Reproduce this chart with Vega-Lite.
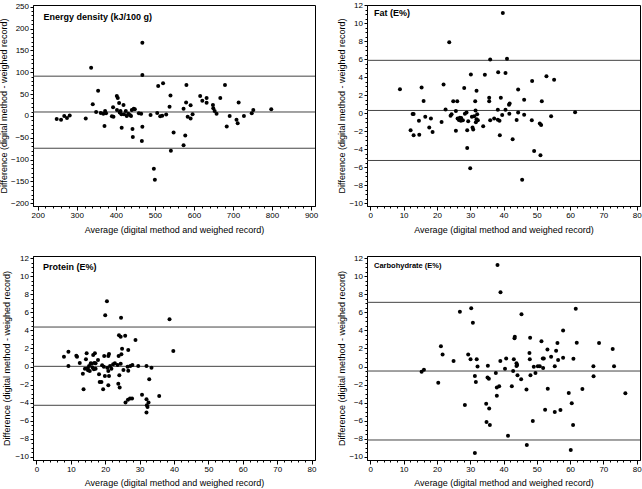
{
  "$schema": "https://vega.github.io/schema/vega-lite/v6.json",
  "padding": {"left": -2, "top": 0, "right": 1, "bottom": 3},
  "spacing": {"row": 18, "column": 17},
  "columns": 2,
  "config": {
    "font": "Liberation Sans",
    "view": {"stroke": "black", "strokeWidth": 1},
    "axis": {"grid": false, "domainColor": "black", "tickColor": "black", "labelColor": "black", "titleColor": "black", "labelFont": "Liberation Sans", "titleFont": "Liberation Sans", "labelFontSize": 8, "titleFontSize": 9, "titleFontWeight": "normal", "labelFlush": false, "labelOverlap": false}
  },
  "datasets": {
    "energy": [
      {"avg":248.7,"diff":-7},{"avg":259.8,"diff":-8.6},{"avg":268,"diff":0},{"avg":275,"diff":-5},{"avg":282,"diff":1},
      {"avg":323,"diff":-6},{"avg":336.8,"diff":110},{"avg":341,"diff":26.5},{"avg":349.6,"diff":8.9},{"avg":354.7,"diff":57.8},
      {"avg":361.5,"diff":6.7},{"avg":368,"diff":5},{"avg":371,"diff":-23},{"avg":372.6,"diff":11},{"avg":375,"diff":6},
      {"avg":390,"diff":-1},{"avg":393,"diff":20},{"avg":394,"diff":-2},{"avg":402.6,"diff":45.6},{"avg":405,"diff":41},{"avg":403,"diff":13.5},
      {"avg":408.5,"diff":29.6},{"avg":410,"diff":8},{"avg":412,"diff":11},{"avg":414.5,"diff":3.6},{"avg":415,"diff":-27},{"avg":419.7,"diff":25},
      {"avg":421,"diff":3.6},{"avg":425.6,"diff":11},{"avg":428,"diff":0},{"avg":432,"diff":5},{"avg":436,"diff":2},{"avg":439,"diff":0},
      {"avg":441,"diff":13.5},{"avg":442.7,"diff":-30},{"avg":443.6,"diff":-48},{"avg":446,"diff":16.6},{"avg":448.7,"diff":15},
      {"avg":459,"diff":6},{"avg":465,"diff":5},{"avg":468,"diff":-24.6},{"avg":466.7,"diff":-57.5},{"avg":468,"diff":167.6},
      {"avg":468,"diff":93.6},{"avg":489,"diff":2},{"avg":497.4,"diff":-120.7},{"avg":500,"diff":-146},{"avg":506,"diff":6.7},
      {"avg":508.5,"diff":68.5},{"avg":513.7,"diff":-1},{"avg":518.8,"diff":0.6},{"avg":521,"diff":75},{"avg":529,"diff":3},
      {"avg":537.6,"diff":21},{"avg":540,"diff":47},{"avg":541,"diff":-80},{"avg":548,"diff":-38},{"avg":573.5,"diff":16.6},
      {"avg":573.5,"diff":-67},{"avg":577.8,"diff":-45},{"avg":580,"diff":31},{"avg":580.8,"diff":70.8},{"avg":584,"diff":-1.7},
      {"avg":591.5,"diff":24.2},{"avg":591.5,"diff":-6},{"avg":596.6,"diff":3.6},{"avg":616,"diff":45.6},{"avg":621.5,"diff":35},
      {"avg":632.5,"diff":41},{"avg":632.5,"diff":30.3},{"avg":648.7,"diff":25},{"avg":649.6,"diff":17.4},{"avg":653,"diff":11},
      {"avg":658,"diff":5},{"avg":667.5,"diff":41},{"avg":679.5,"diff":70.8},{"avg":684,"diff":-24},{"avg":691.5,"diff":0},
      {"avg":709,"diff":-8.6},{"avg":712,"diff":-17},{"avg":714.5,"diff":31},{"avg":728,"diff":0},{"avg":748,"diff":6},
      {"avg":752,"diff":13.5},{"avg":798,"diff":15}
    ],
    "fat": [
      {"avg":8.9,"diff":2.64},{"avg":12.1,"diff":-1.9},{"avg":12.7,"diff":-0.1},{"avg":13.0,"diff":-0.1},{"avg":13.0,"diff":-2.45},
      {"avg":14.6,"diff":-0.85},{"avg":14.7,"diff":-2.4},{"avg":15.4,"diff":2.86},{"avg":16.0,"diff":1.36},{"avg":16.5,"diff":-0.4},
      {"avg":17.7,"diff":-1.6},{"avg":18.2,"diff":-0.6},{"avg":18.7,"diff":-2.1},{"avg":21.4,"diff":-0.98},{"avg":22.0,"diff":3.17},
      {"avg":22.6,"diff":0.4},{"avg":23.7,"diff":7.87},{"avg":24.1,"diff":-0.3},{"avg":24.4,"diff":-0.13},{"avg":24.9,"diff":1.33},
      {"avg":25.7,"diff":0.25},{"avg":25.7,"diff":-1.96},{"avg":26.1,"diff":1.33},{"avg":26.2,"diff":-0.6},{"avg":26.6,"diff":-0.75},
      {"avg":26.9,"diff":-0.5},{"avg":27.2,"diff":-0.85},{"avg":27.3,"diff":-0.55},{"avg":27.8,"diff":-0.8},{"avg":28.2,"diff":2.78},
      {"avg":28.4,"diff":-0.06},{"avg":28.9,"diff":0.08},{"avg":29.1,"diff":-3.86},{"avg":29.1,"diff":-1.9},{"avg":29.4,"diff":-0.9},
      {"avg":30.0,"diff":-6.1},{"avg":30.2,"diff":4.28},{"avg":30.5,"diff":-0.4},{"avg":30.7,"diff":-1.6},{"avg":30.9,"diff":-1.8},
      {"avg":31.2,"diff":-0.35},{"avg":31.5,"diff":1.33},{"avg":31.6,"diff":0.3},{"avg":31.7,"diff":-1.0},{"avg":31.9,"diff":2.5},
      {"avg":31.9,"diff":-0.68},{"avg":32.1,"diff":-0.13},{"avg":32.3,"diff":-0.8},{"avg":33.9,"diff":-1.45},{"avg":34.4,"diff":4.25},
      {"avg":35.7,"diff":1.7},{"avg":35.7,"diff":1.33},{"avg":36.0,"diff":5.95},{"avg":36.0,"diff":-0.8},{"avg":37.2,"diff":-0.6},
      {"avg":38.3,"diff":-0.72},{"avg":38.3,"diff":0.38},{"avg":38.4,"diff":4.55},{"avg":38.8,"diff":-0.85},{"avg":38.9,"diff":-2.45},
      {"avg":39.2,"diff":1.7},{"avg":39.6,"diff":-0.2},{"avg":39.8,"diff":11.1},{"avg":40.6,"diff":4.45},{"avg":40.6,"diff":0.38},
      {"avg":41.05,"diff":6.05},{"avg":41.65,"diff":0.92},{"avg":41.85,"diff":1.07},{"avg":41.75,"diff":-0.06},{"avg":42.75,"diff":-2.9},
      {"avg":43.95,"diff":-0.75},{"avg":44.4,"diff":2.62},{"avg":44.4,"diff":0.08},{"avg":45.6,"diff":-7.4},{"avg":46.2,"diff":1.5},
      {"avg":46.2,"diff":-0.17},{"avg":48.5,"diff":-0.8},{"avg":48.6,"diff":3.56},{"avg":49.2,"diff":-4.2},{"avg":50.9,"diff":-1.16},
      {"avg":51.1,"diff":-4.67},{"avg":51.3,"diff":-1.3},{"avg":51.5,"diff":1.33},{"avg":52.9,"diff":4.1},{"avg":54.3,"diff":-0.35},
      {"avg":55.2,"diff":3.7},{"avg":61.5,"diff":0.1}
    ],
    "protein": [
      {"avg":8.0,"diff":1.07},{"avg":9.3,"diff":1.65},{"avg":9.3,"diff":0.05},{"avg":11.6,"diff":1.2},{"avg":11.8,"diff":1.09},
      {"avg":12.6,"diff":0.4},{"avg":13.5,"diff":-0.8},{"avg":13.7,"diff":-2.52},{"avg":14.1,"diff":-0.25},{"avg":14.4,"diff":0.8},
      {"avg":14.6,"diff":1.46},{"avg":14.9,"diff":-0.2},{"avg":15.0,"diff":-0.42},{"avg":15.3,"diff":0.06},{"avg":15.5,"diff":-0.5},
      {"avg":15.8,"diff":0.36},{"avg":16.0,"diff":0.32},{"avg":16.3,"diff":-0.1},{"avg":16.5,"diff":1.28},{"avg":16.7,"diff":-0.3},
      {"avg":16.8,"diff":0.4},{"avg":17.0,"diff":1.46},{"avg":17.2,"diff":-0.24},{"avg":17.2,"diff":0.35},{"avg":17.9,"diff":0.72},
      {"avg":18.2,"diff":-0.86},{"avg":18.4,"diff":-1.72},{"avg":18.9,"diff":-1.72},{"avg":19.1,"diff":0.13},{"avg":19.6,"diff":-0.02},
      {"avg":19.4,"diff":-2.53},{"avg":19.7,"diff":1.17},{"avg":19.9,"diff":-1.05},{"avg":20.0,"diff":5.68},{"avg":20.5,"diff":7.23},
      {"avg":20.6,"diff":-0.13},{"avg":20.9,"diff":-0.5},{"avg":20.9,"diff":1.17},{"avg":21.1,"diff":1.39},{"avg":20.9,"diff":-2.08},
      {"avg":21.1,"diff":-1.05},{"avg":21.4,"diff":0.06},{"avg":21.8,"diff":-0.24},{"avg":22.3,"diff":0.24},{"avg":22.8,"diff":0.36},
      {"avg":23.6,"diff":0.17},{"avg":23.8,"diff":-1.9},{"avg":23.9,"diff":1.17},{"avg":24.0,"diff":3.46},{"avg":24.5,"diff":3.31},
      {"avg":24.1,"diff":-0.98},{"avg":24.2,"diff":-2.34},{"avg":24.5,"diff":0.32},{"avg":24.6,"diff":5.42},{"avg":24.7,"diff":1.35},
      {"avg":24.9,"diff":1.98},{"avg":25.3,"diff":-0.38},{"avg":25.8,"diff":3.4},{"avg":25.9,"diff":-4.0},{"avg":26.5,"diff":-0.02},
      {"avg":26.7,"diff":-0.46},{"avg":26.7,"diff":1.83},{"avg":26.6,"diff":-3.7},{"avg":27.2,"diff":-3.56},{"avg":27.3,"diff":0.06},
      {"avg":27.9,"diff":0.17},{"avg":27.8,"diff":-3.56},{"avg":28.8,"diff":2.94},{"avg":29.6,"diff":0.06},{"avg":30.7,"diff":-3.12},
      {"avg":32.0,"diff":0.06},{"avg":32.0,"diff":-3.64},{"avg":32.1,"diff":-4.3},{"avg":32.3,"diff":-4.5},{"avg":32.6,"diff":-4.0},
      {"avg":32.0,"diff":-5.1},{"avg":32.8,"diff":-1.4},{"avg":33.45,"diff":-0.13},{"avg":35.7,"diff":-3.27},{"avg":38.7,"diff":5.23},
      {"avg":39.8,"diff":1.72}
    ],
    "carb": [
      {"avg":15.4,"diff":-0.57},{"avg":16.1,"diff":-0.35},{"avg":20.4,"diff":-1.8},{"avg":21.2,"diff":2.24},{"avg":21.7,"diff":1.33},
      {"avg":25.0,"diff":0.61},{"avg":26.9,"diff":6.08},{"avg":28.4,"diff":-4.27},{"avg":29.4,"diff":1.34},{"avg":30.1,"diff":0.8},
      {"avg":30.3,"diff":6.45},{"avg":30.8,"diff":4.85},{"avg":31.4,"diff":-9.6},{"avg":31.4,"diff":-1.06},{"avg":31.7,"diff":-1.72},
      {"avg":31.95,"diff":0.8},{"avg":32.2,"diff":0.0},{"avg":34.8,"diff":-4.12},{"avg":34.9,"diff":-6.15},{"avg":35.2,"diff":-1.23},
      {"avg":35.3,"diff":0.08},{"avg":35.6,"diff":-1.37},{"avg":35.7,"diff":-4.67},{"avg":35.9,"diff":-6.5},{"avg":37.7,"diff":-0.71},
      {"avg":38.0,"diff":-2.34},{"avg":38.0,"diff":-3.25},{"avg":38.2,"diff":11.26},{"avg":38.7,"diff":-2.18},{"avg":39.05,"diff":0.61},
      {"avg":39.1,"diff":8.24},{"avg":40.45,"diff":-0.24},{"avg":40.8,"diff":0.89},{"avg":41.35,"diff":-7.67},{"avg":42.5,"diff":-2.2},
      {"avg":42.9,"diff":-0.5},{"avg":43.1,"diff":0.82},{"avg":43.3,"diff":3.13},{"avg":43.4,"diff":3.3},{"avg":43.9,"diff":0.06},
      {"avg":43.9,"diff":0.35},{"avg":44.1,"diff":0.17},{"avg":44.2,"diff":-0.96},{"avg":45.3,"diff":-1.42},{"avg":45.4,"diff":5.79},
      {"avg":46.9,"diff":-2.55},{"avg":47.0,"diff":-8.7},{"avg":47.8,"diff":1.5},{"avg":47.9,"diff":0.8},{"avg":48.0,"diff":3.2},
      {"avg":48.1,"diff":-0.98},{"avg":48.8,"diff":-6.04},{"avg":49.1,"diff":-0.03},{"avg":49.6,"diff":-0.72},{"avg":50.3,"diff":0.04},
      {"avg":50.9,"diff":0.04},{"avg":51.4,"diff":2.8},{"avg":51.8,"diff":0.89},{"avg":52.1,"diff":0.89},{"avg":51.9,"diff":-0.17},
      {"avg":52.5,"diff":-4.8},{"avg":53.2,"diff":1.9},{"avg":53.3,"diff":-2.47},{"avg":54.3,"diff":1.08},{"avg":55.4,"diff":0.03},
      {"avg":55.4,"diff":-5.04},{"avg":55.8,"diff":1.76},{"avg":56.2,"diff":2.6},{"avg":56.4,"diff":0.73},{"avg":57.1,"diff":-4.82},
      {"avg":57.9,"diff":4.0},{"avg":57.9,"diff":0.98},{"avg":59.6,"diff":-2.95},{"avg":60.2,"diff":-9.26},{"avg":60.5,"diff":-4.08},
      {"avg":60.9,"diff":-6.48},{"avg":61.0,"diff":0.86},{"avg":61.7,"diff":6.4},{"avg":62.0,"diff":2.63},{"avg":63.7,"diff":-2.49},
      {"avg":67.0,"diff":0.02},{"avg":67.05,"diff":-1.09},{"avg":68.7,"diff":2.61},{"avg":72.8,"diff":1.94},{"avg":73.2,"diff":0.02},
      {"avg":76.6,"diff":-2.97}
    ]
  },
  "concat": [
    {
      "width": 282, "height": 201,
      "title": {"text": "Energy density (kJ/100 g)", "anchor": "start", "frame": "group", "offset": -26, "dx": 10.5, "baseline": "alphabetic", "fontSize": 9, "fontWeight": "bold", "font": "Liberation Sans", "color": "black"},
      "resolve": {"axis": {"x": "independent", "y": "independent"}},
      "layer": [
        {"data": {"values": [{"v": 91}, {"v": 9}, {"v": -74}]}, "mark": {"type": "rule", "color": "#444", "strokeWidth": 1},
         "encoding": {"y": {"field": "v", "type": "quantitative", "scale": {"domain": [-206.2, 253.9], "nice": false, "zero": false}, "axis": null}}},
        {"data": {"name": "energy"}, "mark": {"type": "circle", "size": 16, "color": "black", "opacity": 1},
         "encoding": {
           "x": {"field": "avg", "type": "quantitative", "scale": {"domain": [188, 910], "nice": false, "zero": false},
                 "axis": {"title": "Average (digital method and weighed record)", "values": [200,300,400,500,600,700,800,900], "tickSize": 4, "labelPadding": 1, "minExtent": 13, "maxExtent": 13, "titlePadding": 6}},
           "y": {"field": "diff", "type": "quantitative", "scale": {"domain": [-206.2, 253.9], "nice": false, "zero": false},
                 "axis": {"title": "Difference (digital method - weighed record)", "values": [-200,-150,-100,-50,0,50,100,150,200,250], "tickSize": 3, "labelPadding": 1.5, "minExtent": 21, "maxExtent": 21, "titlePadding": 4}}}},
        {"data": {"name": "energy"}, "mark": {"type": "circle", "opacity": 0},
         "encoding": {
           "x": {"field": "avg", "type": "quantitative", "scale": {"domain": [188, 910], "nice": false, "zero": false},
                 "axis": {"orient": "bottom", "title": null, "labels": false, "domain": false, "tickSize": 2, "minExtent": 0, "maxExtent": 0, "values": [200,220,240,260,280,300,320,340,360,380,400,420,440,460,480,500,520,540,560,580,600,620,640,660,680,700,720,740,760,780,800,820,840,860,880,900]}},
           "y": {"field": "diff", "type": "quantitative", "scale": {"domain": [-206.2, 253.9], "nice": false, "zero": false},
                 "axis": {"orient": "left", "title": null, "labels": false, "domain": false, "tickSize": 2, "minExtent": 0, "maxExtent": 0, "values": [-200,-190,-180,-170,-160,-150,-140,-130,-120,-110,-100,-90,-80,-70,-60,-50,-40,-30,-20,-10,0,10,20,30,40,50,60,70,80,90,100,110,120,130,140,150,160,170,180,190,200,210,220,230,240,250]}}}}
      ]
    },
    {
      "width": 273, "height": 201,
      "title": {"text": "Fat (E%)", "anchor": "start", "frame": "group", "offset": -24, "dx": 7, "baseline": "alphabetic", "fontSize": 9, "fontWeight": "bold", "font": "Liberation Sans", "color": "black"},
      "resolve": {"axis": {"x": "independent", "y": "independent"}},
      "layer": [
        {"data": {"values": [{"v": 5.86}, {"v": 0.3}, {"v": -5.25}]}, "mark": {"type": "rule", "color": "#444", "strokeWidth": 1},
         "encoding": {"y": {"field": "v", "type": "quantitative", "scale": {"domain": [-10.3, 12], "nice": false, "zero": false}, "axis": null}}},
        {"data": {"name": "fat"}, "mark": {"type": "circle", "size": 16, "color": "black", "opacity": 1},
         "encoding": {
           "x": {"field": "avg", "type": "quantitative", "scale": {"domain": [-1, 81], "nice": false, "zero": false},
                 "axis": {"title": "Average (digital method and weighed record)", "values": [0,10,20,30,40,50,60,70,80], "tickSize": 4, "labelPadding": 1, "minExtent": 13, "maxExtent": 13, "titlePadding": 6}},
           "y": {"field": "diff", "type": "quantitative", "scale": {"domain": [-10.3, 12], "nice": false, "zero": false},
                 "axis": {"title": "Difference (digital method - weighed record)", "values": [-10,-8,-6,-4,-2,0,2,4,6,8,10,12], "tickSize": 3, "labelPadding": 1.5, "minExtent": 16, "maxExtent": 16, "titlePadding": 5}}}},
        {"data": {"name": "fat"}, "mark": {"type": "circle", "opacity": 0},
         "encoding": {
           "x": {"field": "avg", "type": "quantitative", "scale": {"domain": [-1, 81], "nice": false, "zero": false},
                 "axis": {"orient": "bottom", "title": null, "labels": false, "domain": false, "tickSize": 2, "minExtent": 0, "maxExtent": 0, "values": [0,2,4,6,8,10,12,14,16,18,20,22,24,26,28,30,32,34,36,38,40,42,44,46,48,50,52,54,56,58,60,62,64,66,68,70,72,74,76,78,80]}},
           "y": {"field": "diff", "type": "quantitative", "scale": {"domain": [-10.3, 12], "nice": false, "zero": false},
                 "axis": {"orient": "left", "title": null, "labels": false, "domain": false, "tickSize": 2, "minExtent": 0, "maxExtent": 0, "values": [-10,-9.5,-9,-8.5,-8,-7.5,-7,-6.5,-6,-5.5,-5,-4.5,-4,-3.5,-3,-2.5,-2,-1.5,-1,-0.5,0,0.5,1,1.5,2,2.5,3,3.5,4,4.5,5,5.5,6,6.5,7,7.5,8,8.5,9,9.5,10,10.5,11,11.5,12]}}}}
      ]
    },
    {
      "width": 282, "height": 204,
      "title": {"text": "Protein (E%)", "anchor": "start", "frame": "group", "offset": -25, "dx": 10, "baseline": "alphabetic", "fontSize": 9, "fontWeight": "bold", "font": "Liberation Sans", "color": "black"},
      "resolve": {"axis": {"x": "independent", "y": "independent"}},
      "layer": [
        {"data": {"values": [{"v": 4.38}, {"v": 0.02}, {"v": -4.3}]}, "mark": {"type": "rule", "color": "#444", "strokeWidth": 1},
         "encoding": {"y": {"field": "v", "type": "quantitative", "scale": {"domain": [-10.37, 12.26], "nice": false, "zero": false}, "axis": null}}},
        {"data": {"name": "protein"}, "mark": {"type": "circle", "size": 16, "color": "black", "opacity": 1},
         "encoding": {
           "x": {"field": "avg", "type": "quantitative", "scale": {"domain": [-1, 81], "nice": false, "zero": false},
                 "axis": {"title": "Average (digital method and weighed record)", "values": [0,10,20,30,40,50,60,70,80], "tickSize": 4, "labelPadding": 1, "minExtent": 13, "maxExtent": 13, "titlePadding": 5}},
           "y": {"field": "diff", "type": "quantitative", "scale": {"domain": [-10.37, 12.26], "nice": false, "zero": false},
                 "axis": {"title": "Difference (digital method - weighed record)", "values": [-10,-8,-6,-4,-2,0,2,4,6,8,10,12], "tickSize": 3, "labelPadding": 1.5, "minExtent": 17, "maxExtent": 17, "titlePadding": 5}}}},
        {"data": {"name": "protein"}, "mark": {"type": "circle", "opacity": 0},
         "encoding": {
           "x": {"field": "avg", "type": "quantitative", "scale": {"domain": [-1, 81], "nice": false, "zero": false},
                 "axis": {"orient": "bottom", "title": null, "labels": false, "domain": false, "tickSize": 2, "minExtent": 0, "maxExtent": 0, "values": [0,2,4,6,8,10,12,14,16,18,20,22,24,26,28,30,32,34,36,38,40,42,44,46,48,50,52,54,56,58,60,62,64,66,68,70,72,74,76,78,80]}},
           "y": {"field": "diff", "type": "quantitative", "scale": {"domain": [-10.37, 12.26], "nice": false, "zero": false},
                 "axis": {"orient": "left", "title": null, "labels": false, "domain": false, "tickSize": 2, "minExtent": 0, "maxExtent": 0, "values": [-10,-9.5,-9,-8.5,-8,-7.5,-7,-6.5,-6,-5.5,-5,-4.5,-4,-3.5,-3,-2.5,-2,-1.5,-1,-0.5,0,0.5,1,1.5,2,2.5,3,3.5,4,4.5,5,5.5,6,6.5,7,7.5,8,8.5,9,9.5,10,10.5,11,11.5,12]}}}}
      ]
    },
    {
      "width": 273, "height": 204,
      "title": {"text": "Carbohydrate (E%)", "anchor": "start", "frame": "group", "offset": -21.5, "dx": 7, "baseline": "alphabetic", "fontSize": 7.5, "fontWeight": "bold", "font": "Liberation Sans", "color": "black"},
      "resolve": {"axis": {"x": "independent", "y": "independent"}},
      "layer": [
        {"data": {"values": [{"v": 7.12}, {"v": -0.5}, {"v": -8.15}]}, "mark": {"type": "rule", "color": "#444", "strokeWidth": 1},
         "encoding": {"y": {"field": "v", "type": "quantitative", "scale": {"domain": [-10.37, 12.26], "nice": false, "zero": false}, "axis": null}}},
        {"data": {"name": "carb"}, "mark": {"type": "circle", "size": 16, "color": "black", "opacity": 1},
         "encoding": {
           "x": {"field": "avg", "type": "quantitative", "scale": {"domain": [-1, 81], "nice": false, "zero": false},
                 "axis": {"title": "Average (digital method and weighed record)", "values": [0,10,20,30,40,50,60,70,80], "tickSize": 4, "labelPadding": 1, "minExtent": 13, "maxExtent": 13, "titlePadding": 5}},
           "y": {"field": "diff", "type": "quantitative", "scale": {"domain": [-10.37, 12.26], "nice": false, "zero": false},
                 "axis": {"title": "Difference (digital method - weighed record)", "values": [-10,-8,-6,-4,-2,0,2,4,6,8,10,12], "tickSize": 3, "labelPadding": 1.5, "minExtent": 16, "maxExtent": 16, "titlePadding": 5}}}},
        {"data": {"name": "carb"}, "mark": {"type": "circle", "opacity": 0},
         "encoding": {
           "x": {"field": "avg", "type": "quantitative", "scale": {"domain": [-1, 81], "nice": false, "zero": false},
                 "axis": {"orient": "bottom", "title": null, "labels": false, "domain": false, "tickSize": 2, "minExtent": 0, "maxExtent": 0, "values": [0,2,4,6,8,10,12,14,16,18,20,22,24,26,28,30,32,34,36,38,40,42,44,46,48,50,52,54,56,58,60,62,64,66,68,70,72,74,76,78,80]}},
           "y": {"field": "diff", "type": "quantitative", "scale": {"domain": [-10.37, 12.26], "nice": false, "zero": false},
                 "axis": {"orient": "left", "title": null, "labels": false, "domain": false, "tickSize": 2, "minExtent": 0, "maxExtent": 0, "values": [-10,-9.5,-9,-8.5,-8,-7.5,-7,-6.5,-6,-5.5,-5,-4.5,-4,-3.5,-3,-2.5,-2,-1.5,-1,-0.5,0,0.5,1,1.5,2,2.5,3,3.5,4,4.5,5,5.5,6,6.5,7,7.5,8,8.5,9,9.5,10,10.5,11,11.5,12]}}}}
      ]
    }
  ]
}
